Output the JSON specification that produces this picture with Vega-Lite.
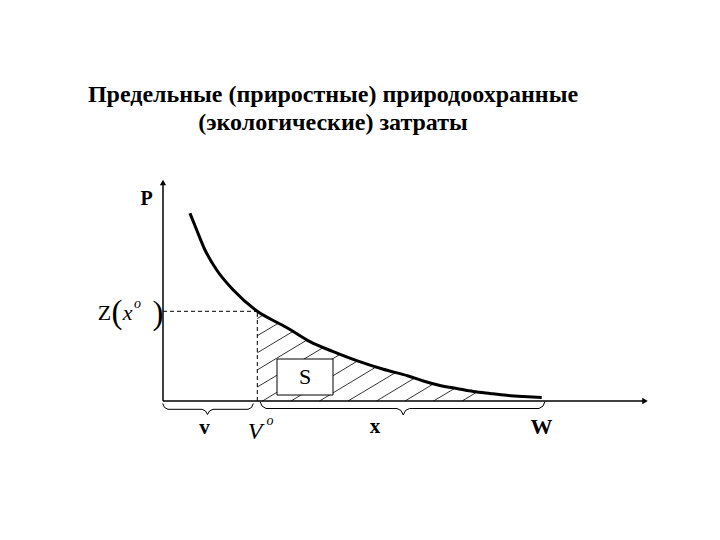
{
  "$schema": "https://vega.github.io/schema/vega-lite/v6.json",
  "width": 720,
  "height": 540,
  "padding": 0,
  "autosize": {"type": "none"},
  "background": "white",
  "config": {"view": {"stroke": null}},
  "encoding": {
    "x": {"field": "x", "type": "quantitative", "scale": {"domain": [-32.6, 111.4], "nice": false, "zero": false}, "axis": null},
    "y": {"field": "y", "type": "quantitative", "scale": {"domain": [-69.5, 200.5], "nice": false, "zero": false}, "axis": null}
  },
  "layer": [
    {
      "data": {"values": [
        {"x": 59.8, "y": 0, "x2": 62.8, "y2": 4.5},
        {"x": 54.1, "y": 0, "x2": 58.4, "y2": 6.4},
        {"x": 48.4, "y": 0, "x2": 54.1, "y2": 8.6},
        {"x": 42.7, "y": 0, "x2": 50.3, "y2": 11.45},
        {"x": 37.0, "y": 0, "x2": 46.5, "y2": 14.2},
        {"x": 31.3, "y": 0, "x2": 42.6, "y2": 17.0},
        {"x": 25.6, "y": 0, "x2": 38.9, "y2": 20.0},
        {"x": 19.9, "y": 0, "x2": 35.4, "y2": 23.3},
        {"x": 18.86, "y": 7.0, "x2": 32.1, "y2": 26.8},
        {"x": 18.86, "y": 15.55, "x2": 28.8, "y2": 30.5},
        {"x": 18.86, "y": 24.1, "x2": 26.0, "y2": 34.8},
        {"x": 18.86, "y": 32.65, "x2": 23.1, "y2": 38.95},
        {"x": 18.86, "y": 41.2, "x2": 20.1, "y2": 43.1}
      ]},
      "mark": {"type": "rule", "color": "black", "strokeWidth": 0.8},
      "encoding": {"x2": {"field": "x2"}, "y2": {"field": "y2"}}
    },
    {
      "data": {"values": [{"x": 22.8, "y": 3, "x2": 34, "y2": 21}]},
      "mark": {"type": "rect", "fill": "white", "stroke": "black", "strokeWidth": 1},
      "encoding": {"x2": {"field": "x2"}, "y2": {"field": "y2"}}
    },
    {
      "data": {"values": [{"x": 28.4, "y": 12, "label": "S"}]},
      "mark": {"type": "text", "font": "Liberation Serif", "fontSize": 22, "align": "center", "baseline": "middle", "color": "black"},
      "encoding": {"text": {"field": "label"}}
    },
    {
      "data": {"values": [
        {"x": 0, "y": 44.85, "x2": 18.86, "y2": 44.85},
        {"x": 18.86, "y": 0, "x2": 18.86, "y2": 44.85}
      ]},
      "mark": {"type": "rule", "color": "black", "strokeWidth": 1, "strokeDash": [4, 3]},
      "encoding": {"x2": {"field": "x2"}, "y2": {"field": "y2"}}
    },
    {
      "data": {"values": [
        {"x": 0, "y": 0, "x2": 96.4, "y2": 0},
        {"x": 0, "y": 0, "x2": 0, "y2": 109.3}
      ]},
      "mark": {"type": "rule", "color": "black", "strokeWidth": 1.5},
      "encoding": {"x2": {"field": "x2"}, "y2": {"field": "y2"}}
    },
    {
      "data": {"values": [{"x": 96.4, "y": 0}]},
      "mark": {"type": "point", "shape": "triangle-right", "filled": true, "color": "black", "size": 40, "opacity": 1}
    },
    {
      "data": {"values": [{"x": 0, "y": 109.3}]},
      "mark": {"type": "point", "shape": "triangle-up", "filled": true, "color": "black", "size": 40, "opacity": 1}
    },
    {
      "data": {"values": [
        {"x": 5.4, "y": 93.85},
        {"x": 6.74, "y": 85.5},
        {"x": 8.4, "y": 75.5},
        {"x": 10.74, "y": 65.5},
        {"x": 14.06, "y": 55.5},
        {"x": 18.86, "y": 44.85},
        {"x": 23.4, "y": 38.5},
        {"x": 25.4, "y": 35.75},
        {"x": 29.4, "y": 29.65},
        {"x": 34.06, "y": 24.65},
        {"x": 38.74, "y": 20.15},
        {"x": 44.06, "y": 15.85},
        {"x": 49.06, "y": 12.5},
        {"x": 52.06, "y": 10.0},
        {"x": 55.4, "y": 7.75},
        {"x": 58.74, "y": 6.25},
        {"x": 62.06, "y": 4.75},
        {"x": 65.4, "y": 3.75},
        {"x": 68.74, "y": 2.85},
        {"x": 72.06, "y": 2.25},
        {"x": 75.74, "y": 1.75}
      ]},
      "mark": {"type": "line", "color": "black", "strokeWidth": 3, "interpolate": "monotone"}
    },
    {
      "data": {"values": [
        {"id": "v", "i": 0, "x": -0.06, "y": -1.25},
        {"id": "v", "i": 1, "x": 0.3, "y": -3.25},
        {"id": "v", "i": 2, "x": 1.0, "y": -4.15},
        {"id": "v", "i": 3, "x": 7.8, "y": -4.15},
        {"id": "v", "i": 4, "x": 8.5, "y": -5.0},
        {"id": "v", "i": 5, "x": 8.9, "y": -6.75},
        {"id": "v", "i": 6, "x": 9.3, "y": -5.0},
        {"id": "v", "i": 7, "x": 10.0, "y": -4.15},
        {"id": "v", "i": 8, "x": 17.0, "y": -4.15},
        {"id": "v", "i": 9, "x": 17.7, "y": -3.25},
        {"id": "v", "i": 10, "x": 18.06, "y": -1.25},
        {"id": "x", "i": 0, "x": 19.4, "y": -0.25},
        {"id": "x", "i": 1, "x": 19.8, "y": -2.5},
        {"id": "x", "i": 2, "x": 20.6, "y": -3.75},
        {"id": "x", "i": 3, "x": 46.8, "y": -3.75},
        {"id": "x", "i": 4, "x": 47.6, "y": -4.75},
        {"id": "x", "i": 5, "x": 48.06, "y": -7.0},
        {"id": "x", "i": 6, "x": 48.5, "y": -4.75},
        {"id": "x", "i": 7, "x": 49.3, "y": -3.75},
        {"id": "x", "i": 8, "x": 75.2, "y": -3.75},
        {"id": "x", "i": 9, "x": 76.0, "y": -2.5},
        {"id": "x", "i": 10, "x": 76.4, "y": -0.25}
      ]},
      "mark": {"type": "line", "color": "black", "strokeWidth": 1},
      "encoding": {"detail": {"field": "id"}, "order": {"field": "i", "type": "quantitative"}}
    },
    {
      "data": {"values": [
        {"x": 34, "y": 153, "label": "Предельные (приростные) природоохранные"},
        {"x": 34, "y": 139, "label": "(экологические) затраты"}
      ]},
      "mark": {"type": "text", "font": "Liberation Serif", "fontSize": 24, "fontWeight": "bold", "align": "center", "baseline": "middle", "color": "black"},
      "encoding": {"text": {"field": "label"}}
    },
    {
      "data": {"values": [{"x": -3.26, "y": 100.85, "label": "P"}]},
      "mark": {"type": "text", "font": "Liberation Serif", "fontSize": 20, "fontWeight": "bold", "align": "center", "baseline": "middle", "color": "black"},
      "encoding": {"text": {"field": "label"}}
    },
    {
      "data": {"values": [
        {"x": 8.3, "y": -13.5, "label": "v"},
        {"x": 42.4, "y": -13, "label": "x"}
      ]},
      "mark": {"type": "text", "font": "Liberation Serif", "fontSize": 21, "fontWeight": "bold", "align": "center", "baseline": "middle", "color": "black"},
      "encoding": {"text": {"field": "label"}}
    },
    {
      "data": {"values": [{"x": 75.7, "y": -13, "label": "W"}]},
      "mark": {"type": "text", "font": "Liberation Serif", "fontSize": 22, "fontWeight": "bold", "align": "center", "baseline": "middle", "color": "black"},
      "encoding": {"text": {"field": "label"}}
    },
    {
      "data": {"values": [{"x": 18.4, "y": -15.5, "label": "V"}]},
      "mark": {"type": "text", "font": "Liberation Serif", "fontSize": 24, "fontStyle": "italic", "align": "center", "baseline": "middle", "color": "black"},
      "encoding": {"text": {"field": "label"}}
    },
    {
      "data": {"values": [
        {"x": 21.4, "y": -10.0, "label": "o"},
        {"x": -5.1, "y": 48.75, "label": "o"}
      ]},
      "mark": {"type": "text", "font": "Liberation Serif", "fontSize": 14, "fontStyle": "italic", "align": "center", "baseline": "middle", "color": "black"},
      "encoding": {"text": {"field": "label"}}
    },
    {
      "data": {"values": [{"x": -11.7, "y": 44.25, "label": "Z"}]},
      "mark": {"type": "text", "font": "Liberation Serif", "fontSize": 22, "align": "center", "baseline": "middle", "color": "black"},
      "encoding": {"text": {"field": "label"}}
    },
    {
      "data": {"values": [{"x": -7.1, "y": 44, "label": "x"}]},
      "mark": {"type": "text", "font": "Liberation Serif", "fontSize": 22, "fontStyle": "italic", "align": "center", "baseline": "middle", "color": "black"},
      "encoding": {"text": {"field": "label"}}
    },
    {
      "data": {"values": [
        {"x": -9.2, "y": 44, "label": "("},
        {"x": -1.0, "y": 43.5, "label": ")"}
      ]},
      "mark": {"type": "text", "font": "Liberation Serif", "fontSize": 33, "align": "center", "baseline": "middle", "color": "black"},
      "encoding": {"text": {"field": "label"}}
    }
  ]
}
